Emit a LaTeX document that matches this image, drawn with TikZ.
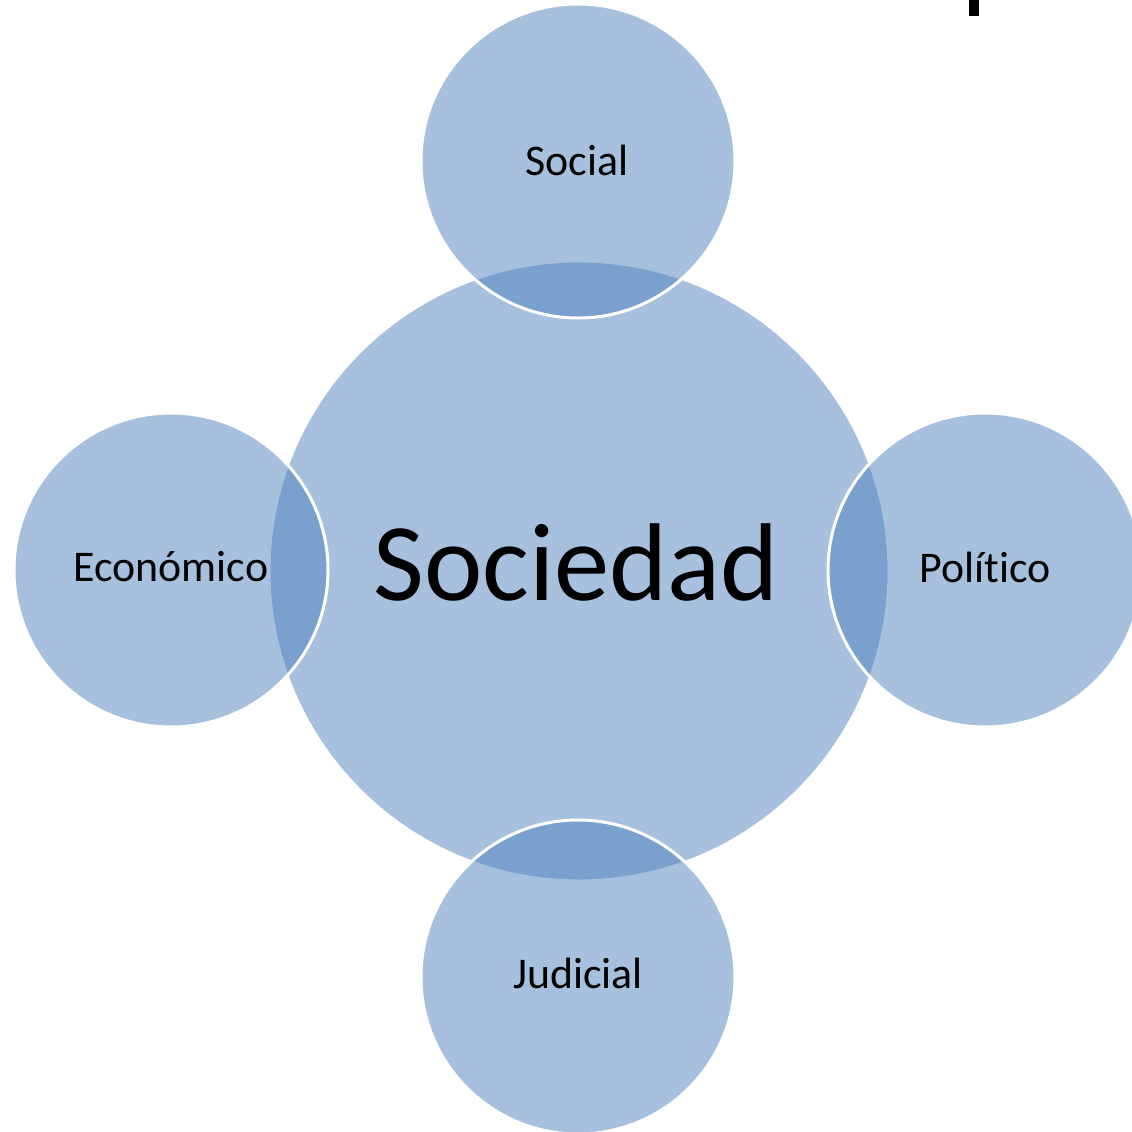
\documentclass[tikz,border=0pt]{standalone}
\usepackage{fontspec}
\setmainfont{Carlito}[Ligatures={NoCommon}]
\definecolor{offblue}{HTML}{4F81BD}
\begin{document}
\begin{tikzpicture}[x=1bp,y=-1bp,
  bubble/.style={circle,fill=offblue,fill opacity=0.5,draw=white,draw opacity=1,line width=3bp,inner sep=0pt},
  small/.style={bubble,minimum size=314bp},
  big/.style={bubble,minimum size=620bp},
  lbl/.style={anchor=base,inner sep=0pt,text=black,font=\fontsize{44}{44}\selectfont},
  biglbl/.style={anchor=base,inner sep=0pt,text=black,font=\fontsize{111}{111}\selectfont}]
\useasboundingbox (0,0) rectangle (1132,1132);
\clip (0,0) rectangle (1132,1132);
\node[big] (soc) at (579,571) {};
\node[small] (s) at (578,161) {};
\node[small] (e) at (171,570) {};
\node[small] (p) at (985,570) {};
\node[small] (j) at (578,977) {};
\node[biglbl] (tsoc) at (576,600) {Sociedad};
\node[lbl] (ts) at (577,175) {Social};
\node[lbl] (te) at (171,581) {Económico};
\node[lbl] (tp) at (985,582) {Político};
\node[lbl] (tj) at (578,988) {Judicial};
\fill[black] (969,0) rectangle (979,16);
\end{tikzpicture}
\end{document}
